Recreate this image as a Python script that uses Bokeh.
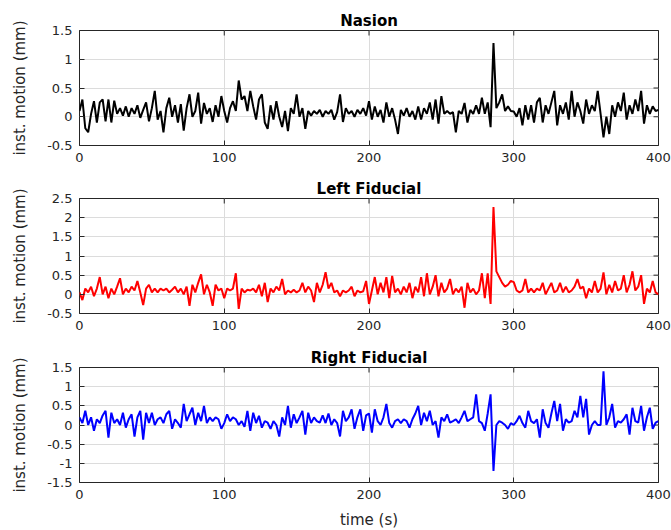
from bokeh.plotting import figure
from bokeh.layouts import column
from bokeh.models import FixedTicker, Range1d, ColumnDataSource
from bokeh.embed import file_html
from bokeh.resources import INLINE
import math

# ---------------- data ----------------
time_s = list(range(0, 401, 2))

nasion = [
    0.10, 0.30, -0.20, -0.27, 0.05, 0.27, -0.10, 0.25, 0.30, -0.08,
    0.30, -0.10, 0.28, 0.05, 0.15, 0.02, 0.18, 0.00, 0.15, 0.05,
    0.20, -0.02, 0.12, 0.25, -0.08, 0.15, 0.45, -0.05, 0.10, -0.27,
    0.15, 0.33, 0.00, 0.20, -0.10, 0.22, -0.24, 0.15, 0.39, 0.00,
    0.10, 0.42, -0.12, 0.24, 0.05, 0.15, -0.09, 0.20, 0.00, 0.36,
    0.10, -0.10, 0.15, 0.27, 0.10, 0.63, 0.30, 0.36, 0.10, 0.45,
    0.18, -0.05, 0.30, 0.39, -0.10, -0.21, 0.20, -0.05, 0.27, 0.00,
    -0.18, 0.10, -0.25, 0.15, 0.05, 0.39, 0.00, 0.15, -0.21, 0.10,
    0.02, 0.10, 0.05, 0.12, 0.00, 0.10, 0.05, 0.12, -0.05, 0.08,
    0.39, -0.09, 0.15, 0.05, 0.10, 0.00, 0.12, 0.05, 0.15, 0.02,
    0.27, -0.05, 0.18, 0.00, 0.12, -0.10, 0.25, 0.00, 0.15, -0.05,
    -0.30, 0.12, 0.02, 0.15, 0.00, 0.10, -0.05, 0.18, -0.05, 0.15,
    0.05, 0.25, -0.05, 0.30, -0.12, 0.36, 0.05, 0.10, 0.05, 0.08,
    -0.27, 0.10, 0.05, 0.24, -0.10, 0.12, 0.05, 0.20, 0.05, 0.33,
    0.05, 0.25, -0.18, 1.28, 0.15, 0.25, 0.39, 0.10, 0.18, 0.10,
    0.09, 0.00, 0.15, -0.15, 0.20, -0.05, 0.20, -0.10, 0.25, 0.33,
    -0.10, 0.20, 0.05, 0.25, 0.45, -0.15, 0.20, 0.05, 0.25, -0.05,
    0.45, 0.00, 0.25, 0.10, -0.12, 0.30, 0.05, 0.20, 0.10, 0.45,
    0.05, -0.36, 0.00, -0.30, 0.20, 0.00, 0.25, 0.10, 0.42, -0.05,
    0.20, 0.05, 0.30, 0.10, 0.45, -0.12, 0.20, 0.05, 0.18, 0.10,
    0.12,
]

left_fiducial = [
    0.05, -0.15, 0.15, 0.05, 0.20, -0.05, 0.15, 0.45, 0.00, 0.20,
    -0.10, 0.15, 0.00, 0.20, 0.42, 0.00, 0.15, 0.05, 0.20, 0.10,
    0.35, 0.05, -0.28, 0.15, 0.25, 0.05, 0.15, 0.05, 0.15, 0.10,
    0.15, 0.05, 0.12, 0.20, 0.05, 0.15, 0.00, 0.20, -0.30, 0.25,
    0.05, 0.30, 0.52, 0.00, 0.25, 0.05, -0.30, 0.25, 0.10, 0.15,
    -0.10, 0.15, 0.10, 0.15, 0.55, -0.38, 0.15, 0.05, 0.12, 0.10,
    0.15, 0.05, 0.25, -0.05, 0.30, -0.20, 0.15, 0.05, 0.20, 0.10,
    0.40, 0.00, 0.10, 0.05, 0.12, 0.05, 0.10, 0.30, 0.05, 0.20,
    0.10, -0.20, 0.30, 0.05, 0.25, 0.58, 0.15, 0.30, 0.05, 0.10,
    -0.05, 0.10, 0.05, 0.10, 0.20, -0.05, 0.10, 0.05, 0.08, 0.35,
    -0.25, 0.10, 0.45, 0.00, 0.30, 0.05, 0.45, -0.10, 0.48, 0.05,
    0.15, 0.00, 0.20, 0.05, 0.30, -0.10, 0.20, 0.05, 0.45, -0.05,
    0.55, 0.00, 0.20, 0.50, -0.05, 0.30, 0.05, 0.15, 0.40, 0.00,
    0.15, 0.05, 0.20, -0.35, 0.30, 0.05, 0.15, 0.00, 0.10, 0.55,
    -0.10, 0.55, -0.25, 2.28, 0.60, 0.45, 0.30, 0.20, 0.25, 0.35,
    0.32, 0.10, 0.05, 0.10, 0.40, 0.05, 0.15, 0.05, 0.15, 0.10,
    0.30, 0.00, 0.15, 0.30, 0.05, 0.10, 0.30, 0.05, 0.20, 0.05,
    0.10, 0.20, 0.40, 0.15, 0.20, -0.10, 0.15, 0.05, 0.35, 0.05,
    0.15, 0.57, 0.00, 0.25, 0.05, 0.35, 0.10, 0.15, 0.50, 0.05,
    0.25, 0.60, 0.10, 0.20, 0.50, -0.25, 0.15, 0.05, 0.35, 0.05,
    0.00,
]

right_fiducial = [
    0.20, 0.05, 0.37, 0.00, 0.20, -0.15, 0.15, 0.05, 0.25, 0.37,
    -0.33, 0.32, 0.05, 0.15, 0.00, 0.32, -0.07, 0.15, 0.28, -0.30,
    0.20, 0.37, -0.38, 0.32, 0.05, 0.32, 0.00, 0.15, 0.20, 0.05,
    0.28, 0.37, -0.10, 0.15, 0.05, -0.07, 0.55, 0.10, 0.28, 0.45,
    0.00, 0.32, 0.10, 0.50, 0.05, 0.20, 0.10, 0.20, 0.15, -0.10,
    0.05, 0.28, 0.10, 0.20, 0.15, 0.00, 0.10, -0.05, 0.37, -0.15,
    0.32, 0.05, 0.24, -0.07, 0.10, 0.06, -0.10, 0.10, 0.00, -0.30,
    0.20, 0.00, 0.50, -0.07, 0.28, 0.05, 0.20, 0.37, -0.25, 0.32,
    0.05, 0.20, 0.10, 0.06, 0.25, 0.05, 0.30, 0.00, 0.15, 0.05,
    -0.30, 0.37, 0.10, 0.20, 0.41, -0.10, 0.20, 0.41, -0.15, 0.25,
    0.30, -0.20, 0.41, 0.10, 0.00, 0.20, 0.55, 0.05, -0.07, 0.10,
    0.15, 0.05, 0.15, 0.10, -0.07, 0.15, 0.30, 0.50, 0.00, 0.32,
    0.10, 0.37, 0.00, 0.10, -0.33, 0.20, 0.10, 0.28, 0.06, 0.10,
    0.15, 0.05, 0.20, 0.37, 0.10, 0.15, 0.20, 0.80, 0.10, 0.05,
    -0.15, 0.30, 0.80, -1.20, 0.00, 0.10, 0.06, 0.00, -0.10, 0.05,
    0.00, 0.10, 0.24, 0.05, -0.07, 0.37, 0.10, 0.05, 0.15, -0.33,
    0.41, 0.05, -0.07, 0.30, 0.63, 0.10, 0.55, -0.15, 0.15, 0.06,
    0.10, 0.37, 0.20, 0.76, 0.20, 0.68, -0.25, 0.00, 0.10, 0.00,
    0.00, 1.40, 0.00, 0.20, 0.55, -0.07, 0.10, 0.06, 0.15, 0.28,
    -0.25, 0.45, 0.10, 0.06, 0.50, -0.15, 0.20, 0.45, -0.10, 0.06,
    0.10,
]

titles = ["Nasion", "Left Fiducial", "Right Fiducial"]
x_ticks = [0, 100, 200, 300, 400]
y_ticks_nasion = [-0.5, 0, 0.5, 1, 1.5]
y_ticks_left = [-0.5, 0, 0.5, 1, 1.5, 2, 2.5]
y_ticks_right = [-1.5, -1, -0.5, 0, 0.5, 1, 1.5]
y_label = "inst. motion (mm)"
x_label = "time (s)"

# ---------------- styling ----------------
FONT = "DejaVu Sans"
TXT = "#262626"
GRID = "#dcdcdc"


def fmt(v):
    return ("%g" % v)


def make_panel(title, values, color, y_ticks, top, bottom, xlabel=None):
    x0, x1 = min(x_ticks), max(x_ticks)
    y0, y1 = min(y_ticks), max(y_ticks)
    p = figure(
        width=671,
        height=top + 115 + bottom,
        frame_width=579,
        frame_height=115,
        min_border_left=79,
        min_border_right=13,
        min_border_top=top,
        min_border_bottom=bottom,
        x_range=Range1d(x0, x1),
        y_range=Range1d(y0, y1),
        output_backend="svg",
        toolbar_location=None,
        title=title,
    )
    p.title.align = "center"
    p.title.text_font = FONT
    p.title.text_font_size = "15px"
    p.title.text_font_style = "bold"
    p.title.text_color = "#000000"
    p.title.standoff = 1

    p.outline_line_color = TXT
    p.outline_line_width = 1
    p.outline_line_alpha = 1.0
    p.background_fill_color = "white"
    p.border_fill_color = "white"

    p.xgrid.ticker = FixedTicker(ticks=x_ticks)
    p.ygrid.ticker = FixedTicker(ticks=y_ticks)
    for g in (p.xgrid[0], p.ygrid[0]):
        g.grid_line_color = GRID
        g.grid_line_width = 1

    # inner tick marks on the top and right edges (MATLAB box style)
    p.scatter(x=x_ticks, y=[y1] * len(x_ticks), marker="dash", size=10,
              angle=math.pi / 2, line_color=TXT, line_width=1)
    p.scatter(x=[x1] * len(y_ticks), y=y_ticks, marker="dash", size=10,
              line_color=TXT, line_width=1)

    src = ColumnDataSource(dict(t=time_s, v=values))
    p.line("t", "v", source=src, line_color=color, line_width=2)

    xa = p.xaxis[0]
    xa.ticker = FixedTicker(ticks=x_ticks)
    xa.major_label_overrides = {t: fmt(t) for t in x_ticks}
    ya = p.yaxis[0]
    ya.ticker = FixedTicker(ticks=y_ticks)
    ya.major_label_overrides = {t: fmt(t) for t in y_ticks}
    ya.axis_label = y_label
    ya.axis_label_standoff = 15
    if xlabel:
        xa.axis_label = xlabel
        xa.axis_label_standoff = 9
    for ax in (xa, ya):
        ax.axis_line_color = None
        ax.major_tick_in = 5
        ax.major_tick_out = 0
        ax.major_tick_line_color = TXT
        ax.minor_tick_line_color = None
        ax.major_label_text_font = FONT
        ax.major_label_text_font_size = "13px"
        ax.major_label_text_color = TXT
        ax.major_label_standoff = 7
        ax.axis_label_text_font = FONT
        ax.axis_label_text_font_size = "15px"
        ax.axis_label_text_font_style = "normal"
        ax.axis_label_text_color = TXT
    return p


p1 = make_panel(titles[0], nasion, "#000000", y_ticks_nasion, 30, 23)
p2 = make_panel(titles[1], left_fiducial, "#ff0000", y_ticks_left, 30, 24)
p3 = make_panel(titles[2], right_fiducial, "#0000ff", y_ticks_right, 30, 48, xlabel=x_label)

layout = column(p1, p2, p3, spacing=0)

open("out.html", "w").write(file_html(layout, INLINE))
